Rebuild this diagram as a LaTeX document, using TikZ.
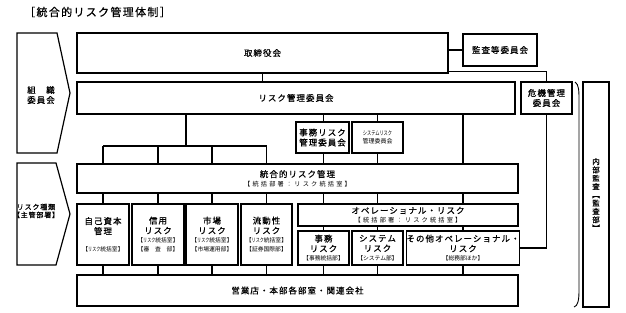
\documentclass[tikz,border=0pt]{standalone}
\usepackage{fontspec}
\setmainfont{Noto Sans CJK JP}
\newfontfamily\jpfont[LetterSpace=12, FakeBold=0.6]{Noto Sans CJK JP}
\newfontfamily\jpwide[LetterSpace=35]{Noto Sans CJK JP}
\newfontfamily\jptight{Noto Sans CJK JP}
\usetikzlibrary{positioning, shapes}
\newcommand{\mainfont}{\jpfont\fontsize{8.5}{10}\selectfont}
\newcommand{\smallfont}{\jptight\fontsize{5.8}{8}\selectfont}
\newcommand{\unitfont}{\jpwide\fontsize{6.2}{8}\selectfont}
\newcommand{\narrow}[1]{\scalebox{0.7}[1]{#1}}
\tikzset{
  box/.style={draw, line width=1.2pt, fill=white, inner sep=0pt, align=center, font=\mainfont},
  riskbox/.style={box, minimum width=52pt, minimum height=61pt},
  subbox/.style={box, minimum height=34pt},
  ln/.style={line width=1.1pt}}

\begin{document}
\begin{tikzpicture}[x=1pt,y=-1pt]
\useasboundingbox (0,0) rectangle (626,313);
	\node[font=\jpfont\fontsize{11}{12}\selectfont] (title) at (97.5,12) {［統合的リスク管理体制］};
	% left arrows
	\draw[line width=1.2pt] (17,33) -- (57,33) -- (70,93) -- (57,153) -- (17,153) -- cycle;
	\draw[line width=1.2pt] (17,163) -- (56,163) -- (70,214) -- (56,265) -- (17,265) -- cycle;
	\node[align=center, font=\mainfont] (org) at (41,95) {組　織\\委員会};
	\node[align=center, font=\jpfont\fontsize{7}{8}\selectfont] (kind) at (36,211) {リスク種類\\【主管部署】};
	% committees
	\node[box, minimum width=371pt, minimum height=40pt] (bod) at (262.5,53) {取締役会};
	\node[box, minimum width=74pt, minimum height=32pt] (audit) at (500,50) {監査等委員会};
	\node[box, minimum width=438pt, minimum height=32pt] (rmc) at (296,98) {リスク管理委員会};
	\node[box, minimum width=51pt, minimum height=32pt] (crisis) at (546.5,98) {危機管理\\委員会};
	\node[box, minimum width=26pt, minimum height=225pt, font=\jpfont\fontsize{7.5}{8.3}\selectfont] (ia) at (596,194.5)
		{内\\部\\監\\査\\︻\\監\\査\\部\\︼};
	\node[box, minimum width=53pt, minimum height=31pt] (opc) at (322.5,137.5) {事務リスク\\管理委員会};
	\node[box, minimum width=51pt, minimum height=31pt, font=\jptight\fontsize{6}{8}\selectfont] (sysc) at (377.5,137.5)
		{\narrow{システムリスク}\\管理委員会};
	\node[box, minimum width=441pt, minimum height=29pt] (irm) at (297.5,178.5)
		{統合的リスク管理\\[-1pt]{\unitfont 【統括部署：リスク統括室】}};
	% risk types
	\node[riskbox] (cap) at (103,234.5) {自己資本\\管理\\[7pt]{\smallfont【\narrow{リスク}統括室】}};
	\node[riskbox] (cred) at (158,234.5) {信用\\リスク\\[-1pt]{\smallfont【\narrow{リスク}統括室】}\\[-1pt]{\smallfont【審　査　部】}};
	\node[riskbox] (mkt) at (212,234.5) {市場\\リスク\\[-1pt]{\smallfont【\narrow{リスク}統括室】}\\[-1pt]{\smallfont【市場運用部】}};
	\node[riskbox, minimum width=51pt] (liq) at (266.5,234.5) {流動性\\リスク\\[-1pt]{\smallfont【\narrow{リスク}統括室】}\\[-1pt]{\smallfont【証券国際部】}};
	\node[box, minimum width=220pt, minimum height=22pt] (op) at (408,215)
		{オペレーショナル・リスク\\[-1pt]{\unitfont 【統括部署：リスク統括室】}};
	\node[subbox, minimum width=51pt] (jimu) at (323.5,248) {事務\\リスク\\[-1pt]{\smallfont【事務統括部】}};
	\node[subbox, minimum width=51pt] (system) at (377.5,248) {システム\\リスク\\[-1pt]{\smallfont【システム部】}};
	\node[subbox, minimum width=110pt] (other) at (463,248) {その他オペレーショナル・\\リスク\\[-1pt]{\smallfont【総務部ほか】}};
	\node[box, minimum width=441pt, minimum height=31pt] (biz) at (297.5,290.5) {営業店・本部各部室・関連会社};
	% connectors
	\coordinate (bar) at (186,146);
	\draw[ln] (bod.south) -- (bod.south |- rmc.north);
	\draw[ln] (bod.east |- audit.west) -- (audit.west);
	\draw[ln] ([yshift=2pt]bod.south east) -| (crisis.north);
	\draw[ln] (rmc.south -| bar) -- (bar);
	\draw[ln] (cap.north |- bar) -- (liq.north |- bar);
	\foreach \n in {cap,cred,mkt,liq} {
		\draw[ln] (\n.north |- bar) -- (\n.north |- irm.north);
		\draw[ln] (\n.north |- irm.south) -- (\n.north);
		\draw[ln] (\n.south) -- (\n.south |- biz.north);
	}
	\foreach \c/\n in {opc/jimu, sysc/system} {
		\draw[ln] (rmc.south -| \n) -- (\c.north -| \n);
		\draw[ln] (\c.south -| \n) -- (irm.north -| \n);
		\draw[ln] (irm.south -| \n) -- (op.north -| \n);
		\draw[ln] (op.south -| \n) -- (\n.north);
		\draw[ln] (\n.south) -- (\n.south |- biz.north);
	}
	\draw[ln] (rmc.south -| other) -- (irm.north -| other);
	\draw[ln] (irm.south -| other) -- (op.north -| other);
	\draw[ln] (op.south -| other) -- (other.north);
	\draw[ln] (other.south) -- (other.south |- biz.north);
	\draw[ln] (crisis.south) |- (other.east);
	% bracket
	\draw[line width=0.9pt] (575,82) .. controls (579,84) and (579,92) .. (579,100) -- (579,290) .. controls (579,300) and (578,306) .. (574,307);
\end{tikzpicture}
\end{document}
